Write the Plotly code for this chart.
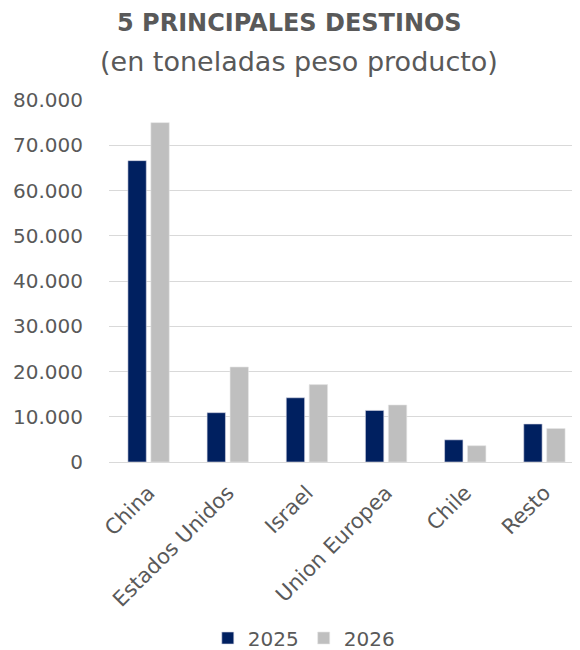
import plotly.graph_objects as go

categories = ["China", "Estados Unidos", "Israel", "Union Europea", "Chile", "Resto"]
values_2025 = [66600, 10900, 14200, 11400, 4900, 8400]
values_2026 = [75000, 21000, 17100, 12600, 3600, 7400]
series_names = ["2025", "2026"]
tick_vals = [0, 10000, 20000, 30000, 40000, 50000, 60000, 70000, 80000]
tick_text = ["0", "10.000", "20.000", "30.000", "40.000", "50.000", "60.000", "70.000", "80.000"]

FONT = "'DejaVu Sans', sans-serif"
GREY = "#595959"
W, H = 580, 650
L, R, T, B = 101, 4, 92, 196
cx = (W / 2 - L) / (W - L - R)

fig = go.Figure()
fig.add_trace(go.Bar(x=categories, y=values_2025, name=series_names[0],
                     marker=dict(color="#002060", line=dict(color="#d9d9e6", width=0.6))))
fig.add_trace(go.Bar(x=categories, y=values_2026, name=series_names[1],
                     marker=dict(color="#BFBFBF", line=dict(color="#e6e6e6", width=0.6))))

fig.update_layout(
    width=W, height=H,
    paper_bgcolor="white", plot_bgcolor="white",
    margin=dict(l=L, r=R, t=T, b=B),
    barmode="group", bargap=0.42, bargroupgap=0.2,
    font=dict(family=FONT, color=GREY),
    showlegend=True,
    legend=dict(orientation="h", x=0.51, xanchor="center", xref="container",
                y=20 / H, yanchor="middle", yref="container",
                font=dict(size=20, color=GREY), traceorder="normal"),
    annotations=[
        dict(text="<b>5 PRINCIPALES DESTINOS</b>", xref="paper", yref="paper",
             x=cx, y=1, xanchor="center", yanchor="middle", yshift=77, xshift=-9,
             showarrow=False, font=dict(size=24, color=GREY, family=FONT)),
        dict(text="(en toneladas peso producto)", xref="paper", yref="paper",
             x=cx, y=1, xanchor="center", yanchor="middle", yshift=39, xshift=1,
             showarrow=False, font=dict(size=27, color=GREY, family=FONT)),
    ],
)
fig.update_yaxes(range=[0, 80000], tickvals=tick_vals, ticktext=tick_text,
                 showgrid=True, gridcolor="#D9D9D9", gridwidth=1.3,
                 zeroline=False, showline=False, ticks="",
                 tickfont=dict(size=20, color=GREY), ticklabelstandoff=25)
fig.update_xaxes(showline=True, linecolor="#D9D9D9", linewidth=1.3,
                 tickangle=-45, tickfont=dict(size=21, color=GREY), ticks="",
                 ticklabelstandoff=9)

fig.write_html("out.html")
